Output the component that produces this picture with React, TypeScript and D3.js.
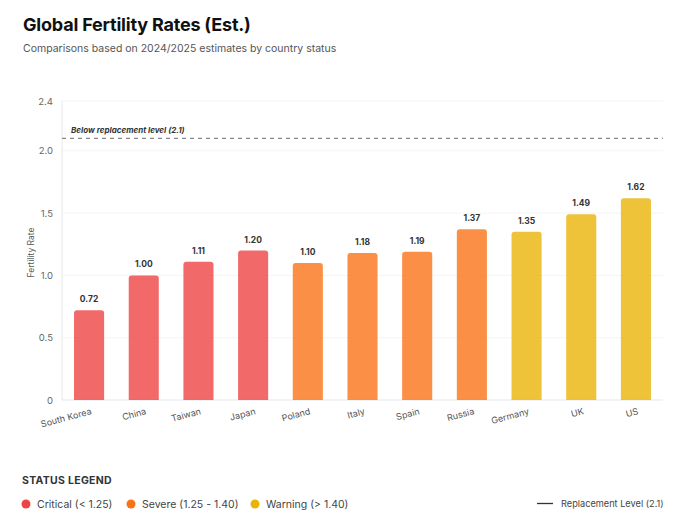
import React from "react";
import * as d3 from "d3";

const countries = ["South Korea", "China", "Taiwan", "Japan", "Poland", "Italy", "Spain", "Russia", "Germany", "UK", "US"];
const rates = [0.72, 1.0, 1.11, 1.2, 1.1, 1.18, 1.19, 1.37, 1.35, 1.49, 1.62];
const statuses = ["critical", "critical", "critical", "critical", "severe", "severe", "severe", "severe", "warning", "warning", "warning"];
const yTicks = [0, 0.5, 1.0, 1.5, 2.0, 2.4];
const yTickLabels = ["0", "0.5", "1.0", "1.5", "2.0", "2.4"];
const replacementLevel = 2.1;
const statusKeys = ["critical", "severe", "warning"];
const statusLabels = ["Critical (< 1.25)", "Severe (1.25 - 1.40)", "Warning (> 1.40)"];
const statusColors = ["#ef4444", "#f97316", "#eab308"];

const W = 680;
const H = 521;
const FONT = "Inter, 'Noto Sans', sans-serif";

export default function App() {
  const left = 62;
  const right = 663;
  const top = 101;
  const bottom = 400;
  const x = d3.scaleBand<string>().domain(countries).range([left, right]).paddingInner(0.45).paddingOuter(0.22);
  const y = d3.scaleLinear().domain([0, 2.4]).range([bottom, top]);
  const color = d3.scaleOrdinal<string, string>().domain(statusKeys).range(statusColors);
  const bw = x.bandwidth();
  const r = 3;

  const barPath = (x0: number, y0: number, w: number, h: number) => {
    const rr = Math.min(r, h / 2, w / 2);
    const p = d3.path();
    p.moveTo(x0, y0 + h);
    p.lineTo(x0, y0 + rr);
    p.arcTo(x0, y0, x0 + rr, y0, rr);
    p.lineTo(x0 + w - rr, y0);
    p.arcTo(x0 + w, y0, x0 + w, y0 + rr, rr);
    p.lineTo(x0 + w, y0 + h);
    p.closePath();
    return p.toString();
  };

  const legendX = [26, 131, 255];

  return (
    <svg width={W} height={H} viewBox={`0 0 ${W} ${H}`} style={{ display: "block", position: "absolute", left: 0, top: 0, background: "#fff" }} fontFamily={FONT}>
      <rect x={0} y={0} width={W} height={H} fill="#fff" />
      <text x={23} y={31} fontSize={18} fontWeight={700} fill="#111" letterSpacing={-0.2}>Global Fertility Rates (Est.)</text>
      <text x={23} y={52} fontSize={10.5} fill="#555">Comparisons based on 2024/2025 estimates by country status</text>

      {/* gridlines */}
      {yTicks.filter((t) => t > 0).map((t) => (
        <line key={"g" + t} x1={left} x2={right} y1={y(t)} y2={y(t)} stroke="#f3f4f6" strokeWidth={1} />
      ))}
      {/* axes */}
      <line x1={left} x2={left} y1={top} y2={bottom} stroke="#e5e7eb" />
      <line x1={left} x2={right} y1={bottom} y2={bottom} stroke="#e5e7eb" />
      {yTicks.map((t, i) => (
        <text key={"t" + t} x={left - 9} y={y(t) + 3.5} fontSize={9.5} fill="#666" textAnchor="end">{yTickLabels[i]}</text>
      ))}
      <text transform={`translate(34,${(top + bottom) / 2 + 2}) rotate(-90)`} fontSize={8.5} fill="#555" textAnchor="middle">Fertility Rate</text>

      {/* replacement line */}
      <line x1={left} x2={right} y1={y(replacementLevel)} y2={y(replacementLevel)} stroke="#888" strokeWidth={1.2} strokeDasharray="4 4" />
      <text x={left + 9} y={y(replacementLevel) - 5} fontSize={8} fontStyle="italic" fontWeight={700} fill="#333">Below replacement level (2.1)</text>

      {/* bars */}
      {countries.map((c, i) => {
        const x0 = x(c)!;
        const y0 = y(rates[i]);
        return (
          <g key={c}>
            <path d={barPath(x0, y0, bw, bottom - y0)} fill={color(statuses[i])} fillOpacity={0.8} />
            <text x={x0 + bw / 2} y={y0 - 8} fontSize={8.5} fontWeight={700} fill="#333" textAnchor="middle">{rates[i].toFixed(2)}</text>
            <text transform={`translate(${x0 + bw / 2 + 3},${bottom + 14}) rotate(-15)`} fontSize={9} fill="#555" textAnchor="end">{c}</text>
          </g>
        );
      })}

      {/* legend */}
      <text x={22} y={484} fontSize={10.5} fontWeight={700} fill="#333" letterSpacing={0.3}>STATUS LEGEND</text>
      {statusKeys.map((k, i) => (
        <g key={k}>
          <circle cx={legendX[i]} cy={504} r={4.5} fill={color(k)} />
          <text x={legendX[i] + 11} y={508} fontSize={10.5} fill="#444">{statusLabels[i]}</text>
        </g>
      ))}
      <line x1={537} x2={553} y1={503.5} y2={503.5} stroke="#333" strokeWidth={1.3} />
      <text x={561} y={507} fontSize={9.2} fill="#444">Replacement Level (2.1)</text>
    </svg>
  );
}
